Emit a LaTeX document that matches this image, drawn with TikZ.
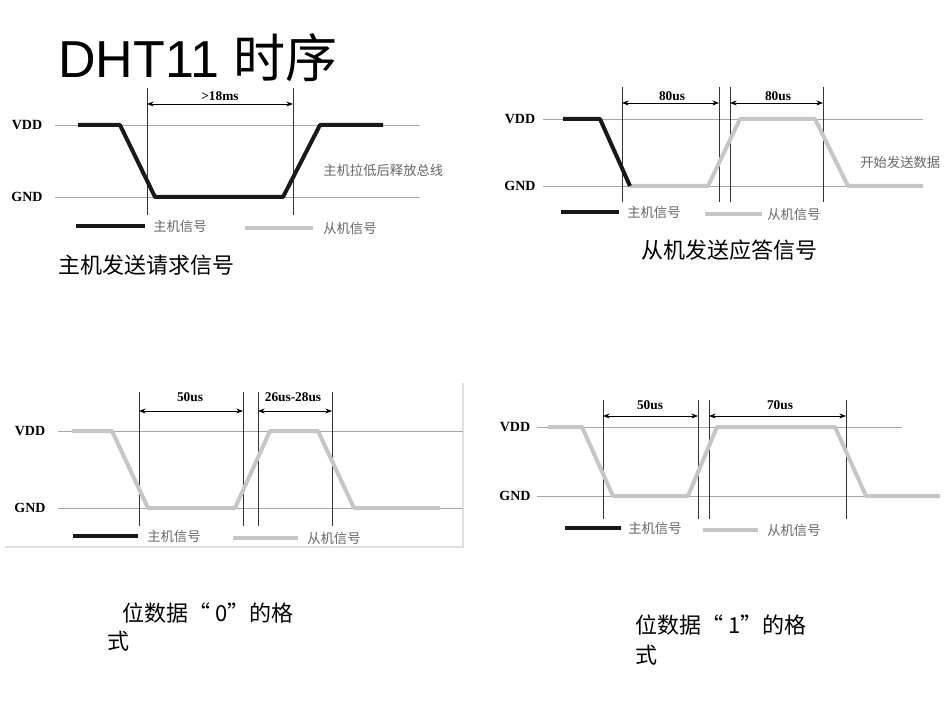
\documentclass[tikz,border=0pt]{standalone}
\usepackage{fontspec}
\setmainfont{Liberation Serif}
\newfontfamily\cjk{Noto Sans CJK SC}
\newfontfamily\hv{Liberation Sans}
\usetikzlibrary{arrows.meta}
\begin{document}
\begin{tikzpicture}[x=0.75pt,y=-0.75pt,
  grid/.style={draw=gray!70,line width=0.6pt},
  vline/.style={draw=black!80,line width=0.6pt},
  master/.style={draw=black!90,line width=3pt,line join=round},
  slave/.style={draw=gray!45,line width=3pt,line join=round},
  dim/.style={draw=black,line width=0.6pt,{Stealth[length=5pt]}-{Stealth[length=5pt]}},
  lvl/.style={font=\fontsize{10.5}{11}\selectfont\bfseries},
  meas/.style={font=\fontsize{10}{11}\selectfont\bfseries},
  leg/.style={font=\cjk\fontsize{10}{11}\selectfont,text=gray!80!black,anchor=west,inner sep=0pt},
  captxt/.style={font=\cjk\fontsize{16.5}{19}\selectfont,anchor=west,inner sep=0pt}]
\useasboundingbox (0,0) rectangle (950,713);
\node[font=\hv\fontsize{39}{44}\selectfont,anchor=west,inner sep=0pt] (title) at (58,58) {DHT11 {\cjk 时序}};
% ---------- panel 1
\node[lvl] (v1) at (27,125) {VDD};
\node[lvl] (g1) at (27,197) {GND};
\draw[grid] (55,125) -- (420,125);
\draw[grid] (55,197) -- (420,197);
\draw[vline] (147,88) -- (147,215);
\draw[vline] (293,88) -- (293,215);
\draw[dim] (147,104) -- (293,104);
\node[meas] (m1) at (220,96) {>18ms};
\draw[master] (78,125) -- (120,125) -- (155,197) -- (283,197) -- (320,125) -- (383,125);
\node[leg] (n1) at (323,170) {主机拉低后释放总线};
\draw[master] (76,226) -- (145,226);
\node[leg] (l1a) at (153,226) {主机信号};
\draw[slave] (245,228) -- (313,228);
\node[leg] (l1b) at (323,228) {从机信号};
\node[captxt] (c1) at (58,265) {主机发送请求信号};
% ---------- panel 2
\node[lvl] (v2) at (520,119) {VDD};
\node[lvl] (g2) at (520,186) {GND};
\draw[grid] (543,119) -- (923,119);
\draw[grid] (543,186) -- (923,186);
\foreach \xx in {622,719,730,823} \draw[vline] (\xx,87) -- (\xx,202);
\draw[dim] (622,103) -- (719,103);
\draw[dim] (730,103) -- (823,103);
\node[meas] (m2a) at (672,96) {80us};
\node[meas] (m2b) at (778,96) {80us};
\draw[slave] (630,186) -- (708,186) -- (740,119) -- (815,119) -- (848,186) -- (923,186);
\draw[master] (563,119) -- (600,119) -- (630,186);
\node[leg] (n2) at (860,162) {开始发送数据};
\draw[master] (561,212) -- (619,212);
\node[leg] (l2a) at (627,212) {主机信号};
\draw[slave] (705,214) -- (762,214);
\node[leg] (l2b) at (767,214) {从机信号};
\node[captxt] (c2) at (641,250) {从机发送应答信号};
% ---------- panel 3
\draw[draw=gray!25,line width=0.8pt] (463,383) -- (463,547) -- (5,547);
\node[lvl] (v3) at (30,431) {VDD};
\node[lvl] (g3) at (30,508) {GND};
\draw[grid] (58,431) -- (463,431);
\draw[grid] (58,508) -- (463,508);
\foreach \xx in {139,243,258,332} \draw[vline] (\xx,392) -- (\xx,526);
\draw[dim] (139,411) -- (243,411);
\draw[dim] (258,411) -- (332,411);
\node[meas] (m3a) at (190,397) {50us};
\node[meas] (m3b) at (293,397) {26us-28us};
\draw[slave] (72,431) -- (112,431) -- (148,508) -- (235,508) -- (270,431) -- (318,431) -- (354,508) -- (440,508);
\draw[master] (73,536) -- (138,536);
\node[leg] (l3a) at (147,536) {主机信号};
\draw[slave] (233,538) -- (298,538);
\node[leg] (l3b) at (307,538) {从机信号};
\node[captxt] (c3a) at (122,613) {位数据“ 0”的格};
\node[captxt] (c3b) at (107,641) {式};
% ---------- panel 4
\node[lvl] (v4) at (515,427) {VDD};
\node[lvl] (g4) at (515,496) {GND};
\draw[grid] (537,427) -- (902,427);
\draw[grid] (537,496) -- (902,496);
\foreach \xx in {603,698,709,846} \draw[vline] (\xx,400) -- (\xx,519);
\draw[dim] (603,416) -- (698,416);
\draw[dim] (709,416) -- (846,416);
\node[meas] (m4a) at (650,405) {50us};
\node[meas] (m4b) at (780,405) {70us};
\draw[slave] (548,427) -- (582,427) -- (613,496) -- (688,496) -- (717,427) -- (835,427) -- (866,496) -- (940,496);
\draw[master] (565,528) -- (621,528);
\node[leg] (l4a) at (628,528) {主机信号};
\draw[slave] (703,530) -- (758,530);
\node[leg] (l4b) at (767,530) {从机信号};
\node[captxt] (c4a) at (635,625) {位数据“ 1”的格};
\node[captxt] (c4b) at (635,655) {式};
\end{tikzpicture}
\end{document}
